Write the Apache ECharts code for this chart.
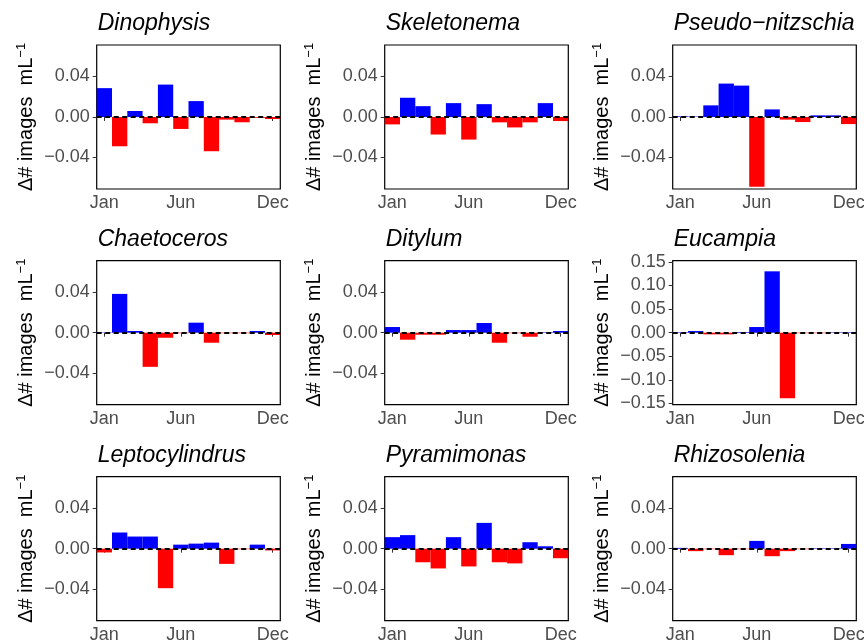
<!DOCTYPE html>
<html>
<head>
<meta charset="utf-8">
<script src="https://cdn.jsdelivr.net/npm/echarts@6/dist/echarts.min.js"></script>
<style>
html,body{margin:0;padding:0;background:#fff;}
#chart{width:864px;height:642px;}
</style>
</head>
<body>
<div id="chart"></div>
<script>
// ---- data ----
const months = ['Jan','Feb','Mar','Apr','May','Jun','Jul','Aug','Sep','Oct','Nov','Dec'];
const shownMonths = ['Jan','Jun','Dec'];
const taxa = ['Dinophysis','Skeletonema','Pseudo\u2212nitzschia','Chaetoceros','Ditylum','Eucampia','Leptocylindrus','Pyramimonas','Rhizosolenia'];

const dinophysis      = [0.0285,-0.0289,0.0059,-0.0062,0.0320,-0.0118,0.0157,-0.0338,-0.0026,-0.0052,-0.0008,-0.0020];
const skeletonema     = [-0.0073,0.0190,0.0107,-0.0173,0.0137,-0.0223,0.0127,-0.0053,-0.0103,-0.0053,0.0137,-0.0040];
const pseudoNitzschia = [0.0006,0.0004,0.0115,0.0330,0.0310,-0.0689,0.0075,-0.0026,-0.0050,0.0016,0.0016,-0.0070];
const chaetoceros     = [0.0003,0.0383,0.0017,-0.0337,-0.0050,-0.0005,0.0099,-0.0099,-0.0005,-0.0005,0.0017,-0.0023];
const ditylum         = [0.0056,-0.0069,-0.0020,-0.0020,0.0026,0.0026,0.0096,-0.0099,-0.0005,-0.0040,0.0005,0.0017];
const eucampia        = [0.0010,0.0035,-0.0035,-0.0035,0.0014,0.0120,0.1300,-0.1390,-0.0010,-0.0010,0.0010,0.0010];
const leptocylindrus  = [-0.0037,0.0160,0.0120,0.0120,-0.0390,0.0040,0.0050,0.0060,-0.0150,-0.0005,0.0040,-0.0017];
const pyramimonas     = [0.0114,0.0134,-0.0134,-0.0195,0.0114,-0.0175,0.0255,-0.0134,-0.0145,0.0064,0.0024,-0.0094];
const rhizosolenia    = [0.0008,-0.0024,-0.0005,-0.0064,-0.0005,0.0077,-0.0074,-0.0024,-0.0005,0.0005,0.0005,0.0047];

const seriesValues = [dinophysis,skeletonema,pseudoNitzschia,chaetoceros,ditylum,eucampia,leptocylindrus,pyramimonas,rhizosolenia];

const yTicksSmall = [-0.04, 0, 0.04];
const yTicksEucampia = [-0.15,-0.10,-0.05,0,0.05,0.10,0.15];
const yRangeSmall = 0.0711;
const yRangeEucampia = 0.1525;

// ---- layout ----
const FONT = '"Liberation Sans", Arial, Helvetica, sans-serif';
const colLeft = [96.7, 384.7, 672.7];
const rowTop = [45, 260.7, 476.7];
const plotW = 183.6, plotH = 144;

const fmt = v => {
  const a = Math.abs(v);
  if (a < 1e-9) return '0.00';
  return (v < 0 ? '\u2212' : '') + a.toFixed(2);
};

const grids = [], xAxes = [], yAxes = [], series = [], titles = [];
const showIdx = idx => shownMonths.indexOf(months[idx]) >= 0;

for (let i = 0; i < 9; i++) {
  const r = Math.floor(i / 3), c = i % 3;
  const isEuc = i === 5;
  const ticks = isEuc ? yTicksEucampia : yTicksSmall;
  const rng = isEuc ? yRangeEucampia : yRangeSmall;
  grids.push({
    left: colLeft[c], top: rowTop[r], width: plotW, height: plotH,
    show: true, borderColor: '#000', borderWidth: 1.2, backgroundColor: 'transparent',
    containLabel: false, outerBoundsMode: 'none'
  });
  titles.push({
    text: taxa[i], left: colLeft[c] + 1, top: rowTop[r] - 33, padding: 0,
    textStyle: { fontFamily: FONT, fontStyle: 'italic', fontWeight: 'normal', fontSize: 23, color: '#000' }
  });
  xAxes.push({
    type: 'category', gridIndex: i, data: months, boundaryGap: true,
    axisLine: { show: false },
    axisTick: { show: true, alignWithLabel: true, length: 4, interval: (idx) => showIdx(idx), lineStyle: { color: '#333', width: 1 } },
    axisLabel: { show: true, interval: (idx) => showIdx(idx), margin: 5, color: '#4D4D4D', fontSize: 18, fontFamily: FONT },
    splitLine: { show: false }
  });
  yAxes.push({
    type: 'value', gridIndex: i, min: -rng, max: rng,
    axisLine: { show: false },
    axisTick: { show: true, length: 4, customValues: ticks, lineStyle: { color: '#333', width: 1 } },
    axisLabel: { show: true, customValues: ticks, formatter: fmt, margin: 7, color: '#4D4D4D', fontSize: 18, fontFamily: FONT },
    splitLine: { show: false },
    name: '{m|\u0394# images  mL}{s|\u22121}',
    nameLocation: 'middle', nameRotate: 90, nameGap: 58,
    nameTextStyle: {
      fontFamily: FONT, color: '#000',
      rich: {
        m: { fontSize: 20, fontFamily: FONT, color: '#000', lineHeight: 24 },
        s: { fontSize: 13, fontFamily: FONT, color: '#000', lineHeight: 14, verticalAlign: 'top' }
      }
    }
  });
  series.push({
    type: 'bar', xAxisIndex: i, yAxisIndex: i,
    data: seriesValues[i],
    barWidth: '100%', barCategoryGap: '0%',
    itemStyle: { color: p => (p.value >= 0 ? '#0000FF' : '#FF0000') },
    animation: false,
    markLine: {
      silent: true, symbol: 'none', animation: false,
      label: { show: false },
      lineStyle: { color: '#000', width: 2, type: [5, 3.5], opacity: 1 },
      data: [{ yAxis: 0 }]
    }
  });
}

const chart = echarts.init(document.getElementById('chart'), null, { renderer: 'canvas' });
chart.setOption({
  backgroundColor: '#fff',
  animation: false,
  title: titles,
  grid: grids,
  xAxis: xAxes,
  yAxis: yAxes,
  series: series
});
</script>
</body>
</html>
